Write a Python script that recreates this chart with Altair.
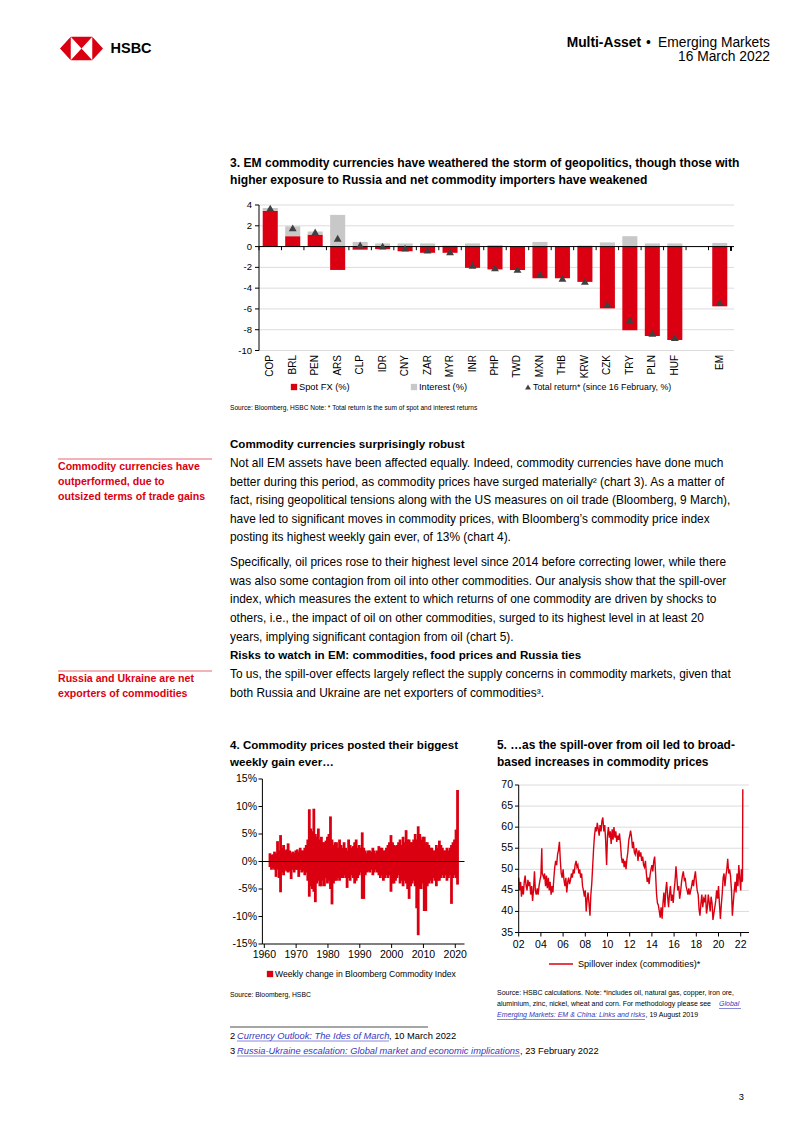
import altair as alt
import pandas as pd

# ---------------- page geometry helpers ----------------
OX, OY = 8, 8          # page margin of the html page
def X(px):
    return px - OX
def Y(py):
    return py - OY

RED = "#DB0011"
GREY = "#C8C8C8"
DARK = "#404040"
LINK = "#3838C0"
SANS = "Liberation Sans, Arial, Helvetica, sans-serif"

# ---------------- data: chart 3 ----------------
cats3 = ["COP", "BRL", "PEN", "ARS", "CLP", "IDR", "CNY", "ZAR", "MYR", "INR",
         "PHP", "TWD", "MXN", "THB", "KRW", "CZK", "TRY", "PLN", "HUF", "EM"]
spot_fx = [3.45, 1.0, 1.15, -2.25, -0.3, -0.25, -0.45, -0.6, -0.6, -2.05,
           -2.2, -2.25, -3.05, -3.05, -3.4, -5.95, -8.05, -8.6, -9.0, -5.75]
interest = [0.25, 0.95, 0.3, 3.05, 0.45, 0.3, 0.3, 0.3, 0.1, 0.3,
            0.15, 0.05, 0.45, 0.05, 0.1, 0.4, 1.0, 0.3, 0.3, 0.35]
total_ret = [3.7, 1.8, 1.4, 0.8, 0.15, 0.05, -0.15, -0.35, -0.5, -1.8,
             -2.05, -2.2, -2.65, -3.05, -3.35, -5.55, -7.05, -8.35, -8.75, -5.4]
slots3 = cats3[:-1] + [" ", "EM"]      # empty slot before EM
y3_ticks = [4, 2, 0, -2, -4, -6, -8, -10]
y3_labels = ["4", "2", "0", "-2", "-4", "-6", "-8", "-10"]
series3 = ["Spot FX (%)", "Interest (%)"]

# ---------------- data: chart 4 (weekly change, half-year extremes) ----------------
wk_years = list(range(1960, 2023))
up_h1 = [1.5, 1.3, 1.5, 2.0, 2.5, 2.0, 3.3, 1.5, 1.5, 2.2,
         2.5, 2.0, 3.0, 9.5, 5.5, 5.0, 6.0, 4.5, 3.5, 4.5,
         8.2, 3.0, 3.5, 4.0, 2.5, 2.5, 4.0, 2.5, 3.5, 2.5,
         2.5, 2.5, 1.5, 2.0, 2.5, 1.5, 2.8, 2.5, 2.0, 3.0,
         4.8, 3.0, 3.0, 4.0, 4.5, 5.7, 4.0, 3.5, 5.0, 6.4,
         4.0, 4.5, 3.5, 2.5, 2.0, 3.0, 3.8, 2.5, 2.0, 2.0,
         3.0, 4.0, 13.0]
up_h2 = [1.2, 1.8, 3.7, 4.8, 3.0, 2.2, 2.0, 1.8, 2.0, 1.8,
         2.0, 2.5, 4.0, 6.0, 9.6, 4.5, 4.0, 3.5, 3.8, 5.0,
         4.0, 3.5, 2.5, 3.0, 3.5, 2.0, 3.0, 2.8, 4.0, 3.0,
         5.3, 2.0, 2.0, 1.8, 2.0, 2.0, 2.5, 2.0, 2.5, 3.5,
         3.5, 2.8, 3.5, 3.0, 3.5, 4.0, 3.5, 4.0, 4.0, 5.0,
         4.5, 3.5, 3.0, 2.5, 2.0, 2.5, 3.0, 2.0, 2.5, 2.5,
         3.5, 5.8, None]
dn_h1 = [-1.0, -1.2, -2.8, -3.0, -2.0, -1.5, -2.0, -3.2, -2.0, -1.5,
         -1.5, -1.8, -2.0, -6.4, -5.0, -7.4, -3.5, -4.5, -4.5, -4.0,
         -5.0, -4.0, -3.5, -3.5, -3.0, -3.0, -3.0, -2.5, -4.0, -3.0,
         -2.0, -6.8, -2.0, -2.0, -2.5, -1.5, -2.5, -2.5, -3.0, -3.0,
         -5.5, -4.0, -3.0, -4.0, -4.5, -4.0, -6.8, -4.0, -4.5, -13.4,
         -5.0, -9.0, -4.5, -3.5, -3.0, -4.5, -3.5, -2.5, -2.5, -3.0,
         -7.7, -2.5, -4.2]
dn_h2 = [-1.5, -1.5, -1.5, -5.6, -2.5, -1.8, -1.8, -1.5, -1.5, -2.8,
         -2.0, -2.5, -3.5, -4.5, -5.5, -4.0, -4.5, -3.5, -3.0, -3.5,
         -7.8, -3.5, -3.0, -3.0, -2.5, -4.8, -3.5, -3.0, -3.5, -2.5,
         -6.8, -2.5, -1.8, -1.5, -2.0, -2.0, -3.0, -3.5, -2.5, -2.5,
         -4.0, -3.5, -2.5, -3.5, -3.5, -5.0, -4.5, -3.5, -8.5, -5.0,
         -4.0, -9.0, -4.0, -4.0, -3.5, -3.5, -3.0, -3.0, -3.5, -2.5,
         -3.0, -3.0, None]
y4_ticks = [15, 10, 5, 0, -5, -10, -15]
y4_labels = ["15%", "10%", "5%", "0%", "-5%", "-10%", "-15%"]
x4_ticks = [1960, 1970, 1980, 1990, 2000, 2010, 2020]

# ---------------- data: chart 5 (spillover index) ----------------
s5_t = [2002.00, 2002.08, 2002.17, 2002.25, 2002.33, 2002.42, 2002.50, 2002.58, 2002.67, 2002.75, 2002.83, 2002.92,
        2003.00, 2003.08, 2003.17, 2003.25, 2003.33, 2003.42, 2003.50, 2003.58, 2003.67, 2003.75, 2003.83, 2003.92,
        2004.00, 2004.08, 2004.12, 2004.25, 2004.33, 2004.42, 2004.50, 2004.58, 2004.67, 2004.75, 2004.83, 2004.92,
        2005.00, 2005.08, 2005.17, 2005.25, 2005.33, 2005.42, 2005.50, 2005.58, 2005.67, 2005.75, 2005.83, 2005.92,
        2006.00, 2006.08, 2006.17, 2006.25, 2006.33, 2006.42, 2006.50, 2006.58, 2006.67, 2006.75, 2006.83, 2006.92,
        2007.00, 2007.08, 2007.17, 2007.25, 2007.33, 2007.42, 2007.50, 2007.58, 2007.67, 2007.75, 2007.83, 2007.92,
        2008.00, 2008.08, 2008.17, 2008.25, 2008.33, 2008.42, 2008.50, 2008.58, 2008.67, 2008.75, 2008.83, 2008.92,
        2009.00, 2009.08, 2009.17, 2009.25, 2009.33, 2009.42, 2009.50, 2009.58, 2009.67, 2009.75, 2009.83, 2009.92,
        2010.00, 2010.08, 2010.17, 2010.25, 2010.33, 2010.42, 2010.50, 2010.58, 2010.67, 2010.75, 2010.83, 2010.92,
        2011.00, 2011.08, 2011.17, 2011.25, 2011.33, 2011.42, 2011.50, 2011.58, 2011.67, 2011.75, 2011.83, 2011.92,
        2012.00, 2012.08, 2012.17, 2012.25, 2012.33, 2012.42, 2012.50, 2012.58, 2012.67, 2012.75, 2012.83, 2012.92,
        2013.00, 2013.08, 2013.17, 2013.25, 2013.33, 2013.42, 2013.50, 2013.58, 2013.67, 2013.75, 2013.83, 2013.92,
        2014.00, 2014.08, 2014.17, 2014.25, 2014.33, 2014.42, 2014.50, 2014.58, 2014.67, 2014.75, 2014.83, 2014.92,
        2015.00, 2015.08, 2015.17, 2015.25, 2015.33, 2015.42, 2015.50, 2015.58, 2015.67, 2015.75, 2015.83, 2015.92,
        2016.00, 2016.08, 2016.17, 2016.25, 2016.33, 2016.42, 2016.50, 2016.58, 2016.67, 2016.75, 2016.83, 2016.92,
        2017.00, 2017.08, 2017.17, 2017.25, 2017.33, 2017.42, 2017.50, 2017.58, 2017.67, 2017.75, 2017.83, 2017.92,
        2018.00, 2018.08, 2018.17, 2018.25, 2018.33, 2018.42, 2018.50, 2018.58, 2018.67, 2018.75, 2018.83, 2018.92,
        2019.00, 2019.08, 2019.17, 2019.25, 2019.33, 2019.42, 2019.50, 2019.58, 2019.67, 2019.75, 2019.83, 2019.92,
        2020.00, 2020.08, 2020.17, 2020.25, 2020.33, 2020.42, 2020.50, 2020.58, 2020.67, 2020.75, 2020.83, 2020.92,
        2021.00, 2021.08, 2021.17, 2021.25, 2021.33, 2021.42, 2021.50, 2021.58, 2021.67, 2021.75, 2021.83, 2021.92,
        2022.00, 2022.06, 2022.12, 2022.16, 2022.19]
s5_v = [48.0, 45.0, 47.0, 43.5, 46.0, 44.0, 47.0, 48.5, 46.0, 45.0, 47.5, 46.0,
        47.0, 44.0, 46.0, 42.5, 45.0, 49.5, 45.0, 44.0, 45.5, 44.0, 46.0, 47.5,
        48.5, 55.0, 49.0, 48.0, 49.0, 46.0, 48.5, 45.5, 48.0, 45.0, 47.0, 44.0,
        46.0, 44.5, 48.0, 50.5, 52.0, 51.0, 53.5, 54.5, 56.5, 52.0, 49.0, 48.0,
        50.0, 47.5, 46.0, 48.0, 44.5, 47.0, 48.0, 46.5, 47.5, 49.0, 48.0, 50.0,
        49.0, 51.0, 52.0, 50.5, 51.0, 49.0, 50.0, 48.0, 49.0, 46.0, 45.0, 43.5,
        45.0, 40.0, 43.0, 44.5, 42.0, 39.0, 44.0, 46.5, 51.0, 55.0, 58.0, 60.0,
        59.0, 61.0, 59.5, 58.0, 60.5, 59.0, 61.5, 62.3, 59.0, 60.5, 57.0, 51.0,
        58.0, 60.0, 57.5, 59.0, 56.0, 59.5, 57.0, 60.0, 57.5, 59.0, 56.5, 58.0,
        57.0, 58.5, 56.0, 53.0, 51.5, 52.5, 50.5, 52.0, 50.0, 52.5, 54.0, 57.0,
        58.0, 59.2, 57.5, 55.0, 56.5, 54.0, 53.5, 55.0, 54.0, 52.0, 54.5, 53.0,
        54.0, 52.0, 53.0, 51.0, 50.5, 52.0, 49.0, 47.0, 48.0, 46.5, 48.5, 50.0,
        51.0, 49.5, 52.0, 53.0, 49.0, 44.0, 42.0, 41.5, 40.0, 38.5, 41.0, 38.3,
        42.0, 44.5, 41.0, 45.0, 47.0, 43.5, 41.0, 44.0, 46.0, 42.5, 44.0, 42.0,
        45.0, 47.0, 50.7, 48.0, 45.0, 46.0, 43.0, 44.5, 47.0, 48.5, 49.5, 47.5,
        48.0, 46.0, 45.0, 44.0, 45.5, 44.0, 45.0, 46.0, 47.5, 46.0, 48.0, 49.5,
        47.0, 45.0, 44.0, 40.5, 39.0, 42.0, 44.0, 41.0, 43.0, 42.5, 44.0, 39.5,
        41.0, 44.0, 42.0, 40.0, 43.5, 42.0, 38.0, 39.5, 41.0, 42.5, 45.0, 43.0,
        46.0, 42.0, 38.2, 41.5, 44.0, 48.0, 49.0, 46.0, 48.5, 50.0, 52.5, 49.0,
        50.0, 48.5, 45.0, 39.0, 42.0, 45.0, 47.0, 44.5, 49.0, 46.0, 51.0, 47.5,
        45.0, 50.0, 47.0, 47.5, 69.0]
y5_ticks = [70, 65, 60, 55, 50, 45, 40, 35]
x5_ticks = [2002, 2004, 2006, 2008, 2010, 2012, 2014, 2016, 2018, 2020, 2022]
x5_labels = ["02", "04", "06", "08", "10", "12", "14", "16", "18", "20", "22"]

# ---------------- text content ----------------
title3 = ["3. EM commodity currencies have weathered the storm of geopolitics, though those with",
          "higher exposure to Russia and net commodity importers have weakened"]
source3 = "Source: Bloomberg, HSBC Note: * Total return is the sum of spot and interest returns"
heading1 = "Commodity currencies surprisingly robust"
para1 = ["Not all EM assets have been affected equally. Indeed, commodity currencies have done much",
         "better during this period, as commodity prices have surged materially\u00b2 (chart 3). As a matter of",
         "fact, rising geopolitical tensions along with the US measures on oil trade (Bloomberg, 9 March),",
         "have led to significant moves in commodity prices, with Bloomberg\u2019s commodity price index",
         "posting its highest weekly gain ever, of 13% (chart 4)."]
para2 = ["Specifically, oil prices rose to their highest level since 2014 before correcting lower, while there",
         "was also some contagion from oil into other commodities. Our analysis show that the spill-over",
         "index, which measures the extent to which returns of one commodity are driven by shocks to",
         "others, i.e., the impact of oil on other commodities, surged to its highest level in at least 20",
         "years, implying significant contagion from oil (chart 5)."]
heading2 = "Risks to watch in EM: commodities, food prices and Russia ties"
para3 = ["To us, the spill-over effects largely reflect the supply concerns in commodity markets, given that",
         "both Russia and Ukraine are net exporters of commodities\u00b3."]
side1 = ["Commodity currencies have", "outperformed, due to", "outsized terms of trade gains"]
side2 = ["Russia and Ukraine are net", "exporters of commodities"]
title4 = ["4. Commodity prices posted their biggest", "weekly gain ever\u2026"]
title5 = ["5. \u2026as the spill-over from oil led to broad-", "based increases in commodity prices"]

ONE = pd.DataFrame({"k": [0]})
LAYERS = []


def T(text, x, yc, fs=11.5, weight="normal", color="#000000", align="left",
      font=SANS, style="normal", lh=None):
    kw = dict(text=text, align=align, baseline="alphabetic", font=font, fontSize=fs,
              fontWeight=weight, color=color, fontStyle=style)
    if lh is not None:
        kw["lineHeight"] = lh
    LAYERS.append(alt.Chart(ONE).mark_text(**kw).encode(
        x=alt.value(X(x)), y=alt.value(Y(yc + 0.33 * fs))))


def HR(x1, x2, y, color="#000000", w=1.0, op=1.0):
    LAYERS.append(alt.Chart(ONE).mark_rule(color=color, strokeWidth=w, opacity=op).encode(
        x=alt.value(X(x1)), x2=alt.value(X(x2)), y=alt.value(Y(y))))


def VR(x, y1, y2, color="#000000", w=1.0):
    LAYERS.append(alt.Chart(ONE).mark_rule(color=color, strokeWidth=w).encode(
        x=alt.value(X(x)), y=alt.value(Y(y1)), y2=alt.value(Y(y2))))


# ======================= CHART 3 =======================
x3 = alt.Scale(domain=slots3, range=[X(259), X(731)], paddingInner=0.33, paddingOuter=0.165)
y3 = alt.Scale(domain=[-10, 4], range=[Y(350.5), Y(205)], nice=False, zero=False)
step3 = (731 - 259) / len(slots3)

df3 = pd.DataFrame({
    "cat": cats3 * 2,
    "series": [series3[0]] * len(cats3) + [series3[1]] * len(cats3),
    "value": spot_fx + interest,
    "ord": [0] * len(cats3) + [1] * len(cats3),
})
df3t = pd.DataFrame({"cat": cats3, "total": total_ret})
df3y = pd.DataFrame({"v": y3_ticks, "lab": y3_labels})
df3s = pd.DataFrame({"slot": slots3, "z0": [0.0] * len(slots3), "z1": [-0.35] * len(slots3)})
df3z = pd.DataFrame({"z": [0.0]})

LAYERS.append(alt.Chart(df3y).mark_rule(color="#DCDCDC", strokeWidth=1).encode(
    y=alt.Y("v:Q", scale=y3, axis=None), x=alt.value(X(259)), x2=alt.value(X(734))))
LAYERS.append(alt.Chart(df3).mark_bar(strokeWidth=0).encode(
    x=alt.X("cat:N", scale=x3, axis=None),
    y=alt.Y("value:Q", scale=y3, axis=None, stack="zero"),
    color=alt.Color("series:N", scale=alt.Scale(domain=series3, range=[RED, GREY]), legend=None),
    order=alt.Order("ord:Q"),
))
LAYERS.append(alt.Chart(df3z).mark_rule(color="#000000", strokeWidth=1).encode(
    y=alt.Y("z:Q", scale=y3, axis=None), x=alt.value(X(259)), x2=alt.value(X(734))))
LAYERS.append(alt.Chart(df3s).mark_rule(color="#000000", strokeWidth=1, xOffset=-step3 / 2).encode(
    x=alt.X("slot:N", scale=x3, axis=None),
    y=alt.Y("z0:Q", scale=y3, axis=None), y2="z1:Q"))
LAYERS.append(alt.Chart(df3s).mark_rule(color="#000000", strokeWidth=1).encode(
    x=alt.value(X(731)), y=alt.Y("z0:Q", scale=y3, axis=None), y2="z1:Q"))
VR(259, 205, 350.5)
LAYERS.append(alt.Chart(df3y).mark_rule(color="#000000", strokeWidth=1).encode(
    y=alt.Y("v:Q", scale=y3, axis=None), x=alt.value(X(255)), x2=alt.value(X(259))))
LAYERS.append(alt.Chart(df3y).mark_text(align="right", baseline="middle", font=SANS, fontSize=9.5,
                                        color="#000000").encode(
    y=alt.Y("v:Q", scale=y3, axis=None), x=alt.value(X(252)), text="lab:N"))
LAYERS.append(alt.Chart(df3t).mark_text(angle=270, align="right", baseline="middle", font=SANS,
                                        fontSize=10, color="#000000").encode(
    x=alt.X("cat:N", scale=x3, axis=None), y=alt.value(Y(355)), text="cat:N"))
LAYERS.append(alt.Chart(df3t).mark_point(shape="triangle-up", filled=True, color=DARK, size=62,
                                         opacity=1).encode(
    x=alt.X("cat:N", scale=x3, axis=None), y=alt.Y("total:Q", scale=y3, axis=None)))

# legend chart 3
LAYERS.append(alt.Chart(ONE).mark_square(color=RED, size=40, opacity=1).encode(
    x=alt.value(X(294)), y=alt.value(Y(387))))
LAYERS.append(alt.Chart(ONE).mark_square(color=GREY, size=40, opacity=1).encode(
    x=alt.value(X(414)), y=alt.value(Y(387))))
LAYERS.append(alt.Chart(ONE).mark_point(shape="triangle-up", filled=True, color=DARK, size=34,
                                        opacity=1).encode(x=alt.value(X(528)), y=alt.value(Y(387))))
T(series3[0], 299, 387, fs=9.3)
T(series3[1], 419, 387, fs=9.3)
T("Total return* (since 16 February, %)", 533, 387, fs=8.8)

# ======================= CHART 4 =======================
x4 = alt.Scale(domain=[1959.4, 2022.9], range=[X(262.4), X(464.5)], nice=False, zero=False)
y4 = alt.Scale(domain=[-15, 15], range=[Y(944), Y(779)], nice=False, zero=False)
rows4 = []
for i, yr in enumerate(wk_years):
    for off, up, dn in ((0.25, up_h1[i], dn_h1[i]), (0.75, up_h2[i], dn_h2[i])):
        if up is not None:
            rows4.append({"t": yr + off, "v": up})
        if dn is not None:
            rows4.append({"t": yr + off, "v": dn})
df4 = pd.DataFrame(rows4)
df4y = pd.DataFrame({"v": y4_ticks, "lab": y4_labels})
df4x = pd.DataFrame({"t": x4_ticks})
df4z = pd.DataFrame({"z": [0.0]})

LAYERS.append(alt.Chart(df4).mark_bar(color=RED, width=2.8, strokeWidth=0).encode(
    x=alt.X("t:Q", scale=x4, axis=None), y=alt.Y("v:Q", scale=y4, axis=None)))
LAYERS.append(alt.Chart(df4z).mark_rule(color="#000000", strokeWidth=1.2).encode(
    y=alt.Y("z:Q", scale=y4, axis=None), x=alt.value(X(262.4)), x2=alt.value(X(464.5))))
VR(262.4, 779, 944)
HR(262.4, 464.5, 944)
LAYERS.append(alt.Chart(df4y).mark_rule(color="#000000", strokeWidth=1).encode(
    y=alt.Y("v:Q", scale=y4, axis=None), x=alt.value(X(258.5)), x2=alt.value(X(262.4))))
LAYERS.append(alt.Chart(df4x).mark_rule(color="#000000", strokeWidth=1).encode(
    x=alt.X("t:Q", scale=x4, axis=None), y=alt.value(Y(944)), y2=alt.value(Y(948))))
LAYERS.append(alt.Chart(df4y).mark_text(align="right", baseline="middle", font=SANS, fontSize=10.5,
                                        color="#000000").encode(
    y=alt.Y("v:Q", scale=y4, axis=None), x=alt.value(X(257)), text="lab:N"))
LAYERS.append(alt.Chart(df4x).mark_text(align="center", baseline="middle", font=SANS, fontSize=10.5,
                                        color="#000000").encode(
    x=alt.X("t:Q", scale=x4, axis=None), y=alt.value(Y(955)), text=alt.Text("t:Q", format="d")))
LAYERS.append(alt.Chart(ONE).mark_square(color=RED, size=40, opacity=1).encode(
    x=alt.value(X(270)), y=alt.value(Y(974))))
T("Weekly change in Bloomberg Commodity Index", 275, 974, fs=8.6)

# ======================= CHART 5 =======================
x5 = alt.Scale(domain=[2002, 2022], range=[X(518.7), X(740.7)], nice=False, zero=False)
y5 = alt.Scale(domain=[35, 70], range=[Y(932.5), Y(785)], nice=False, zero=False)
df5 = pd.DataFrame({"t": s5_t, "v": s5_v})
df5y = pd.DataFrame({"v": y5_ticks})
df5x = pd.DataFrame({"t": x5_ticks, "lab": x5_labels})

LAYERS.append(alt.Chart(df5y).mark_rule(color="#DCDCDC", strokeWidth=1).encode(
    y=alt.Y("v:Q", scale=y5, axis=None), x=alt.value(X(518.7)), x2=alt.value(X(749))))
LAYERS.append(alt.Chart(df5).mark_line(color=RED, strokeWidth=1.4).encode(
    x=alt.X("t:Q", scale=x5, axis=None), y=alt.Y("v:Q", scale=y5, axis=None)))
VR(518.7, 785, 932.5)
HR(518.7, 749, 932.5)
LAYERS.append(alt.Chart(df5y).mark_rule(color="#000000", strokeWidth=1).encode(
    y=alt.Y("v:Q", scale=y5, axis=None), x=alt.value(X(515)), x2=alt.value(X(518.7))))
LAYERS.append(alt.Chart(df5x).mark_rule(color="#000000", strokeWidth=1).encode(
    x=alt.X("t:Q", scale=x5, axis=None), y=alt.value(Y(932.5)), y2=alt.value(Y(936.5))))
LAYERS.append(alt.Chart(df5y).mark_text(align="right", baseline="middle", font=SANS, fontSize=10.5,
                                        color="#000000").encode(
    y=alt.Y("v:Q", scale=y5, axis=None), x=alt.value(X(513)), text=alt.Text("v:Q")))
LAYERS.append(alt.Chart(df5x).mark_text(align="center", baseline="middle", font=SANS, fontSize=10.5,
                                        color="#000000").encode(
    x=alt.X("t:Q", scale=x5, axis=None), y=alt.value(Y(945)), text="lab:N"))
HR(549, 573, 964, color=RED, w=1.5)
T("Spillover index (commodities)*", 578, 964, fs=9.1)

# ======================= LOGO + HEADER =======================
logo_red = ("M-1,0L-0.5,-0.55L-0.5,0.55Z M1,0L0.5,-0.55L0.5,0.55Z "
            "M-0.5,-0.55L0.5,-0.55L0,0Z M-0.5,0.55L0.5,0.55L0,0Z")
LAYERS.append(alt.Chart(ONE).mark_point(shape=logo_red, filled=True, color=RED, size=1850, opacity=1,
                                        strokeWidth=0).encode(x=alt.value(X(81.5)), y=alt.value(Y(48.5))))
T("HSBC", 110.5, 48.5, fs=14.5, weight="bold")
T("Multi-Asset", 641, 42, fs=13.8, weight="bold", align="right")
T("\u2022", 648.5, 42, fs=13.8, align="center")
T("Emerging Markets", 770, 42, fs=13.8, align="right")
T("16 March 2022", 770, 56.5, fs=13.8, align="right")

# ======================= TEXT BLOCKS =======================
T(title3, 230, 163, fs=12.1, weight="bold", lh=17)
T(source3, 230, 408, fs=6.6)
T(heading1, 230, 444, fs=11.6, weight="bold")
T(para1, 230, 463, fs=11.9, lh=18.6)
T(para2, 230, 562, fs=11.9, lh=18.7)
T(heading2, 230, 655, fs=11.6, weight="bold")
T(para3, 230, 674, fs=11.9, lh=18.6)
HR(58, 212, 459, color=RED, w=1, op=0.6)
T(side1, 58, 467, fs=10.6, weight="bold", color=RED, lh=15)
HR(58, 212, 671, color=RED, w=1, op=0.6)
T(side2, 58, 679, fs=10.6, weight="bold", color=RED, lh=14.5)
T(title4, 230, 745, fs=11.6, weight="bold", lh=17)
T(title5, 497, 745, fs=11.9, weight="bold", lh=17)
T("Source: Bloomberg, HSBC", 230, 995, fs=6.8)
T("Source: HSBC calculations. Note: *includes oil, natural gas, copper, iron ore,", 497, 993, fs=7)
T("aluminium, zinc, nickel, wheat and corn. For methodology please see", 497, 1004, fs=7)
T("Global", 719, 1004, fs=7, style="italic", color=LINK)
HR(719, 741, 1008.5, color=LINK, w=0.6)
T("Emerging Markets: EM & China: Links and risks", 497, 1015, fs=7, style="italic", color=LINK)
HR(497, 645, 1019.5, color=LINK, w=0.6)
T(", 19 August 2019", 645.5, 1015, fs=7)
HR(230, 428, 1027, color="#000000", w=0.7)
T("2", 230, 1036, fs=9.3)
T("Currency Outlook: The Ides of March", 237, 1036, fs=9.3, style="italic", color=LINK)
HR(237, 389, 1041, color=LINK, w=0.6)
T(", 10 March 2022", 389, 1036, fs=9.3)
T("3", 230, 1051, fs=9.3)
T("Russia-Ukraine escalation: Global market and economic implications", 237, 1051, fs=9.3,
  style="italic", color=LINK)
HR(237, 520, 1056, color=LINK, w=0.6)
T(", 23 February 2022", 520, 1051, fs=9.3)
T("3", 744, 1097, fs=9.3, align="right")

chart = alt.layer(*LAYERS).resolve_scale(
    x="independent", y="independent", color="independent"
).properties(
    width=786, height=1117, autosize=alt.AutoSizeParams(type="none"), padding=0
).configure_view(strokeWidth=0)

chart.save("out.html", embed_options={"renderer": "svg", "actions": False})
